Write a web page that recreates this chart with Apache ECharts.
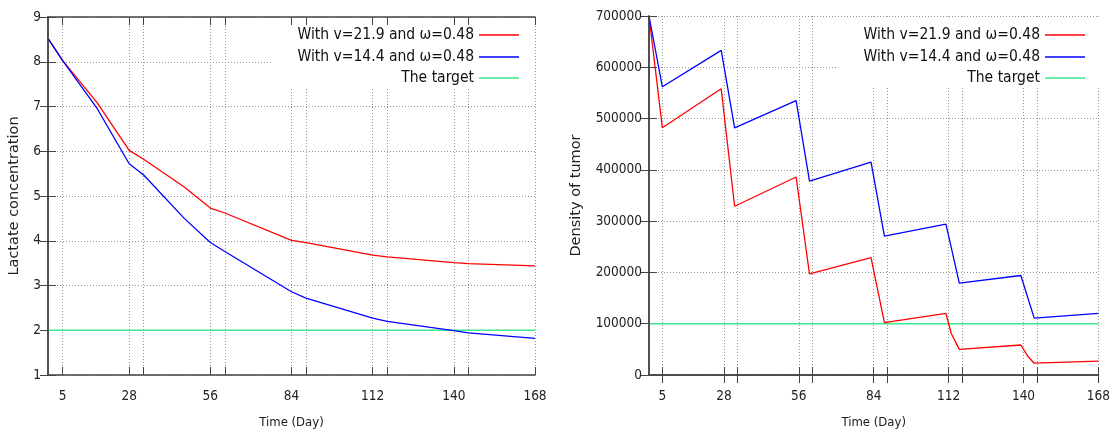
<!DOCTYPE html>
<html>
<head>
<meta charset="utf-8">
<title>Lactate and tumor density</title>
<script src="https://cdn.jsdelivr.net/npm/echarts@6/dist/echarts.min.js"></script>
<style>
    html, body { margin: 0; padding: 0; background: #fff; }
    #chart { width: 1113px; height: 438px; }
</style>
</head>
<body>
<div id="chart"></div>
<script>
// 坐标轴刻度
const tickDays = [5, 28, 33, 56, 61, 84, 89, 112, 117, 140, 145, 168];
const labelDays = [5, 28, 56, 84, 112, 140, 168];

// 乳酸浓度 (左图)
const lactateDays = [0, 5, 17, 28, 33, 47, 56, 61, 84, 89, 112, 117, 140, 145, 168];
const lactateRed = [8.52, 8.03, 7.08, 6.02, 5.82, 5.2, 4.73, 4.62, 4.01, 3.96, 3.68, 3.64, 3.51, 3.49, 3.44];
const lactateBlue = [8.52, 8.03, 6.95, 5.72, 5.47, 4.5, 3.96, 3.76, 2.86, 2.72, 2.27, 2.2, 1.99, 1.94, 1.82];

// 肿瘤密度 (右图)
const tumorRedDays = [0, 5, 27, 32, 55, 60, 83, 86, 88, 111, 113, 116, 139, 141.7, 144, 168];
const tumorRed = [700000, 482000, 558000, 329000, 386000, 197000, 229000, 153000, 102000, 120000, 81000, 50000, 58500, 36000, 23000, 27000];
const tumorBlueDays = [0, 5, 27, 32, 55, 60, 83, 88, 111, 116, 139, 144, 168];
const tumorBlue = [700000, 562000, 633000, 482000, 535000, 378000, 415000, 271000, 294000, 179000, 194000, 111000, 120000];

// 目标线
const targetDays = [0, 168];
const targetLactate = [2, 2];
const targetTumor = [100000, 100000];

const seriesNames = ['With v=21.9 and ω=0.48', 'With v=14.4 and ω=0.48', 'The target'];
const seriesColors = ['#ff0000', '#0000ff', '#3be88c'];

const FONT = "'DejaVu Sans Condensed', 'DejaVu Sans', sans-serif";
const AXIS_COLOR = '#444';

document.addEventListener('DOMContentLoaded', function () {
    initChart();
});

function pairs(xs, ys) {
    return xs.map((x, i) => [x, ys[i]]);
}

/**
 * 主坐标轴 (带网格线)
 */
function mainXAxis(gridIndex) {
    return {
        type: 'value', gridIndex: gridIndex, min: 0, max: 168,
        name: 'Time (Day)', nameLocation: 'middle', nameGap: 41,
        nameTextStyle: { fontFamily: FONT, fontSize: 13, color: '#222' },
        axisLine: { lineStyle: { color: AXIS_COLOR, width: 1.5 } },
        axisTick: { inside: true, length: 8, customValues: tickDays, lineStyle: { color: AXIS_COLOR } },
        axisLabel: { customValues: labelDays, margin: 14, fontFamily: FONT, fontSize: 13.5, color: '#222' },
        splitLine: { show: true, lineStyle: { color: '#999', type: [1, 2], width: 1 } }
    };
}

// 顶部镜像刻度
function mirrorXAxis(gridIndex) {
    return {
        type: 'value', gridIndex: gridIndex, position: 'top', min: 0, max: 168, z: 5,
        axisLine: { lineStyle: { color: AXIS_COLOR, width: 1.5 } },
        axisTick: { inside: true, length: 8, customValues: tickDays, lineStyle: { color: AXIS_COLOR } },
        axisLabel: { show: false },
        splitLine: { show: false }
    };
}

function mainYAxis(gridIndex, name, min, max, interval, nameGap) {
    return {
        type: 'value', gridIndex: gridIndex, min: min, max: max, interval: interval,
        name: name, nameLocation: 'middle', nameGap: nameGap,
        nameTextStyle: { fontFamily: 'DejaVu Sans', fontSize: 14.5, color: '#222' },
        axisLine: { show: true, lineStyle: { color: AXIS_COLOR, width: 1.5 } },
        axisTick: { show: true, inside: true, length: 8, lineStyle: { color: AXIS_COLOR } },
        axisLabel: { margin: 7, fontFamily: FONT, fontSize: 13.5, color: '#222', formatter: v => String(v) },
        splitLine: { show: true, lineStyle: { color: '#999', type: [1, 2], width: 1 } }
    };
}

function mirrorYAxis(gridIndex, min, max, interval) {
    return {
        type: 'value', gridIndex: gridIndex, position: 'right', min: min, max: max, interval: interval, z: 5,
        axisLine: { show: true, lineStyle: { color: AXIS_COLOR, width: 1.5 } },
        axisTick: { show: true, inside: true, length: 8, lineStyle: { color: AXIS_COLOR } },
        axisLabel: { show: false },
        splitLine: { show: false }
    };
}

/**
 * 图例: 每行一个, 文字右对齐
 */
function legendRows(right) {
    const rowTops = [27, 49, 70];
    return seriesNames.map((name, i) => {
        const legend = {
            data: [name], right: right, top: rowTops[i], orient: 'vertical', align: 'right',
            icon: 'rect', itemWidth: 40, itemHeight: 1.5, padding: 0, z: 4,
            textStyle: { fontFamily: FONT, fontSize: 15.5, color: '#111' }
        };
        if (i === 0) {
            // 第一行的白色背景盖住三行区域
            legend.right = right - 16;
            legend.top = 18;
            legend.padding = [9, 16, 45, 25];
            legend.backgroundColor = '#fff';
            legend.z = 3;
        }
        return legend;
    });
}

function lineSeries(name, color, xAxisIndex, yAxisIndex, data, width) {
    return {
        type: 'line', name: name, xAxisIndex: xAxisIndex, yAxisIndex: yAxisIndex,
        data: data, symbol: 'none', smooth: false, animation: false,
        lineStyle: { color: color, width: width || 1.3 }, itemStyle: { color: color }
    };
}

function initChart() {
    if (typeof echarts === 'undefined') {
        console.error('ECharts未加载');
        return;
    }
    const chart = echarts.init(document.getElementById('chart'));

    chart.setOption({
        backgroundColor: '#fff',
        animation: false,
        grid: [
            { left: 48, right: 578, top: 17, bottom: 63 },
            { left: 649, right: 14, top: 16, bottom: 63 }
        ],
        xAxis: [mainXAxis(0), mainXAxis(1), mirrorXAxis(0), mirrorXAxis(1)],
        yAxis: [
            mainYAxis(0, 'Lactate concentration', 1, 9, 1, 26),
            mainYAxis(1, 'Density of tumor', 0, 700000, 100000, 65),
            mirrorYAxis(0, 1, 9, 1),
            mirrorYAxis(1, 0, 700000, 100000)
        ],
        legend: legendRows(594).concat(legendRows(28)),
        series: [
            lineSeries(seriesNames[2], seriesColors[2], 0, 0, pairs(targetDays, targetLactate), 1.5),
            lineSeries(seriesNames[0], seriesColors[0], 0, 0, pairs(lactateDays, lactateRed)),
            lineSeries(seriesNames[1], seriesColors[1], 0, 0, pairs(lactateDays, lactateBlue)),
            lineSeries(seriesNames[2], seriesColors[2], 1, 1, pairs(targetDays, targetTumor), 1.5),
            lineSeries(seriesNames[0], seriesColors[0], 1, 1, pairs(tumorRedDays, tumorRed)),
            lineSeries(seriesNames[1], seriesColors[1], 1, 1, pairs(tumorBlueDays, tumorBlue))
        ]
    });

    window.addEventListener('resize', function () {
        chart.resize();
    });
}
</script>
</body>
</html>
